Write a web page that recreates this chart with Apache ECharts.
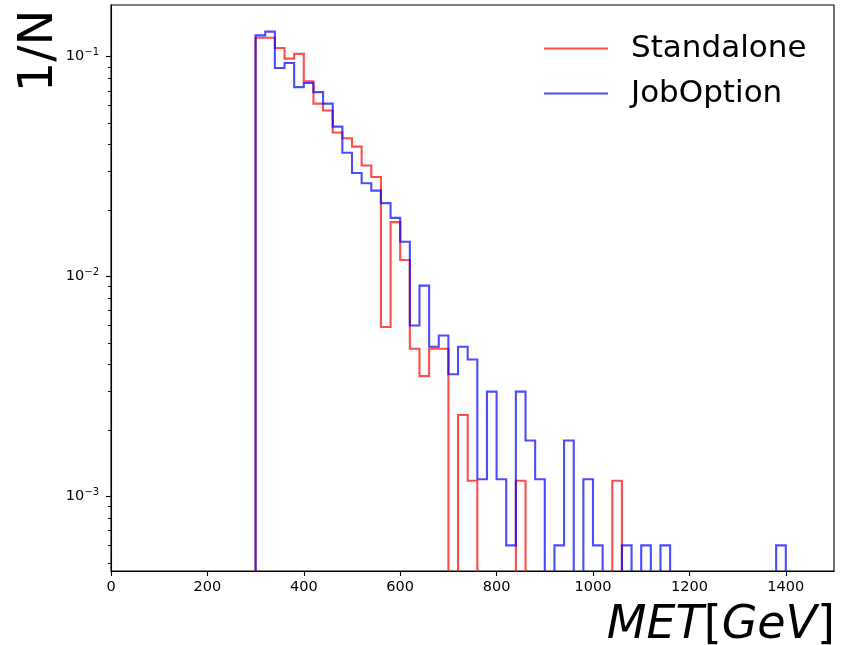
<!DOCTYPE html>
<html>
<head>
<meta charset="utf-8">
<script src="https://cdn.jsdelivr.net/npm/echarts@6/dist/echarts.min.js"></script>
<style>
  html, body { margin: 0; padding: 0; background: #fff; }
  #chart { width: 843px; height: 645px; }
</style>
</head>
<body>
<div id="chart"></div>
<script>
// MET histogram, 20 GeV bins starting at 300 GeV, normalised to 1/N
const binStart = 300;
const binWidth = 20;

const standalone = [
  0.122, 0.122, 0.1095, 0.098, 0.103, 0.0772, 0.0612, 0.0569, 0.0452, 0.0426,
  0.039, 0.032, 0.0284, 0.0059, 0.0177, 0.0119, 0.0047, 0.00353, 0.0047, 0.0047,
  0, 0.00235, 0.00118, 0, 0, 0, 0, 0.00118, 0, 0,
  0, 0, 0, 0, 0, 0, 0, 0.00118, 0, 0,
  0, 0, 0, 0, 0, 0, 0, 0, 0, 0,
  0, 0, 0, 0, 0
];

const jobOption = [
  0.125, 0.130, 0.0888, 0.0936, 0.0727, 0.0759, 0.069, 0.0612, 0.0481, 0.0366,
  0.0296, 0.0266, 0.0246, 0.0216, 0.0185, 0.0144, 0.0060, 0.0091, 0.0048, 0.0054,
  0.0036, 0.0048, 0.0042, 0.0012, 0.0030, 0.0012, 0.0006, 0.0030, 0.0018, 0.0012,
  0, 0.0006, 0.0018, 0, 0.0012, 0.0006, 0, 0, 0.0006, 0,
  0.0006, 0, 0.0006, 0, 0, 0, 0, 0, 0, 0,
  0, 0, 0, 0, 0.0006
];

const xTicks = [0, 200, 400, 600, 800, 1000, 1200, 1400];
const yDecades = [-3, -2, -1];
const yRange = [0.000459, 0.1718];

// log10 space, so the value axis behaves like matplotlib's log scale
const yMin = Math.log10(yRange[0]);
const yMax = Math.log10(yRange[1]);
const floor = -6; // empty bins drop below the axis and get clipped

const minorTicks = [];
for (let d = -4; d <= -1; d++) {
  for (let m = 2; m <= 9; m++) {
    const v = Math.log10(m) + d;
    if (v > yMin && v < yMax) minorTicks.push(v);
  }
}

function stepPoints(values) {
  const pts = [[binStart, floor]];
  values.forEach((v, i) => {
    const y = v > 0 ? Math.log10(v) : floor;
    pts.push([binStart + i * binWidth, y]);
    pts.push([binStart + (i + 1) * binWidth, y]);
  });
  pts.push([binStart + values.length * binWidth, floor]);
  return pts;
}

const font = 'DejaVu Sans';
const chart = echarts.init(document.getElementById('chart'), null, { renderer: 'canvas' });

chart.setOption({
  animation: false,
  backgroundColor: '#fff',
  grid: {
    left: 111, top: 5, right: 9, bottom: 74,
    show: true, borderColor: '#000', borderWidth: 1.1
  },
  legend: {
    orient: 'vertical',
    left: 538,
    top: 28,
    itemWidth: 64,
    itemHeight: 14,
    itemGap: 14,
    itemStyle: { opacity: 0 },
    textStyle: { fontFamily: font, fontSize: 31, color: '#000', padding: [0, 0, 0, 18] },
    data: ['Standalone', 'JobOption']
  },
  xAxis: {
    type: 'value',
    min: 0,
    max: 1500,
    axisLine: { lineStyle: { color: '#000', width: 1.1 } },
    axisTick: { customValues: xTicks, length: 5, lineStyle: { color: '#000', width: 1.1 } },
    axisLabel: {
      customValues: xTicks, margin: 9,
      formatter: (v) => String(v),
      fontFamily: font, fontSize: 14.5, color: '#000'
    },
    splitLine: { show: false }
  },
  yAxis: [
    {
      type: 'value',
      min: yMin,
      max: yMax,
      axisLine: { show: true, lineStyle: { color: '#000', width: 1.1 } },
      axisTick: { customValues: yDecades, length: 5, lineStyle: { color: '#000', width: 1.1 } },
      axisLabel: {
        customValues: yDecades,
        margin: 12,
        formatter: (v) => '{b|10}{s|\u2212' + Math.abs(Math.round(v)) + '}',
        rich: {
          b: { fontFamily: font, fontSize: 14.5, lineHeight: 18, color: '#000' },
          s: { fontFamily: font, fontSize: 10, lineHeight: 11, color: '#000', verticalAlign: 'top' }
        }
      },
      splitLine: { show: false }
    },
    {
      type: 'value',
      min: yMin,
      max: yMax,
      position: 'left',
      axisLine: { show: false },
      axisTick: { customValues: minorTicks, length: 3, lineStyle: { color: '#000', width: 0.9 } },
      axisLabel: { show: false },
      splitLine: { show: false }
    }
  ],
  graphic: [
    {
      type: 'text',
      x: 40,
      y: 51,
      rotation: Math.PI / 2,
      style: {
        text: '1/N',
        font: '48px "DejaVu Sans"',
        fill: '#000',
        align: 'center',
        verticalAlign: 'middle'
      }
    },
    {
      type: 'text',
      right: 8,
      top: 603,
      style: {
        text: '{i|MET}{n|[}{i|GeV}{n|]}',
        rich: {
          i: { fontFamily: font, fontStyle: 'italic', fontSize: 46, fill: '#000' },
          n: { fontFamily: font, fontSize: 46, fill: '#000' }
        }
      }
    }
  ],
  series: [
    {
      name: 'Standalone',
      type: 'line',
      symbol: 'none',
      clip: true,
      color: 'rgba(255,0,0,0.7)',
      lineStyle: { width: 2.1, color: 'rgba(255,0,0,0.7)', join: 'miter' },
      data: stepPoints(standalone)
    },
    {
      name: 'JobOption',
      type: 'line',
      symbol: 'none',
      clip: true,
      color: 'rgba(0,0,255,0.7)',
      lineStyle: { width: 2.1, color: 'rgba(0,0,255,0.7)', join: 'miter' },
      data: stepPoints(jobOption)
    }
  ]
});
</script>
</body>
</html>
